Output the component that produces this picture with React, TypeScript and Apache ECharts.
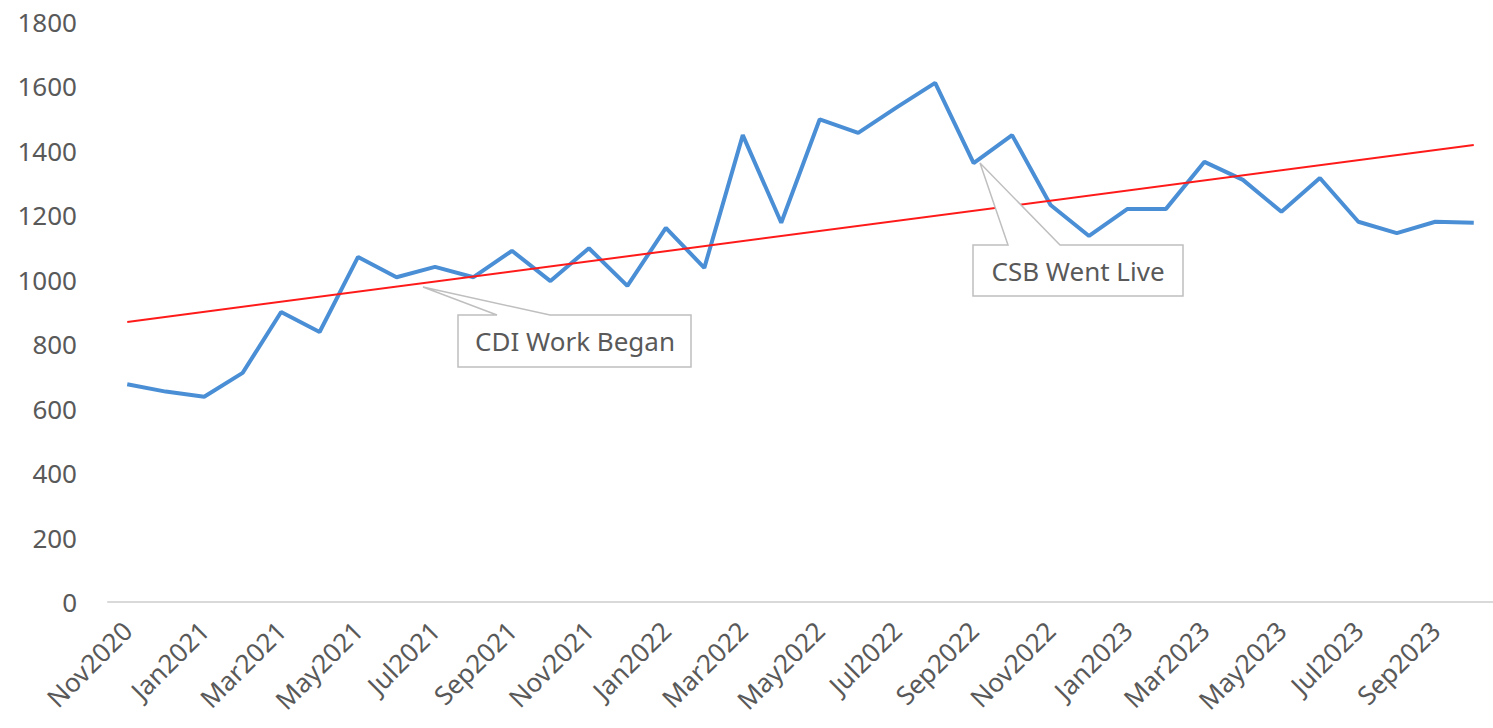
import React, { useEffect, useRef } from "react";
import * as echarts from "echarts";

const categories = [
  "Nov2020", "Dec2020", "Jan2021", "Feb2021", "Mar2021", "Apr2021", "May2021", "Jun2021",
  "Jul2021", "Aug2021", "Sep2021", "Oct2021", "Nov2021", "Dec2021", "Jan2022", "Feb2022",
  "Mar2022", "Apr2022", "May2022", "Jun2022", "Jul2022", "Aug2022", "Sep2022", "Oct2022",
  "Nov2022", "Dec2022", "Jan2023", "Feb2023", "Mar2023", "Apr2023", "May2023", "Jun2023",
  "Jul2023", "Aug2023", "Sep2023", "Oct2023",
];

const values = [
  676, 653, 637, 711, 900, 838, 1071, 1008, 1040, 1008, 1090, 996,
  1098, 981, 1161, 1037, 1449, 1177, 1498, 1456, 1535, 1611, 1362, 1449,
  1232, 1136, 1220, 1220, 1366, 1310, 1211, 1316, 1180, 1145, 1180, 1177,
];

const trendStart = 869;
const trendEnd = 1418;

const yTicks = { min: 0, max: 1800, interval: 200 };

const FONT = "Noto Sans";
const TEXT = "#595959";

export default function App() {
  const ref = useRef<HTMLDivElement>(null);
  useEffect(() => {
    if (!ref.current) return;
    const chart = echarts.init(ref.current, null, { renderer: "svg" });
    const trend = categories.map((_, i) =>
      i === 0 ? trendStart : i === categories.length - 1 ? trendEnd : null
    );
    const boxStyle = { fill: "#ffffff", stroke: "#bfbfbf", lineWidth: 1.5 };
    const textStyle = {
      fill: TEXT,
      font: `26px "${FONT}"`,
      align: "center",
      verticalAlign: "middle",
    };
    chart.setOption({
      animation: false,
      backgroundColor: "#ffffff",
      grid: { left: 108, top: 22, width: 1395, height: 580, containLabel: false },
      xAxis: {
        type: "category",
        data: categories,
        boundaryGap: true,
        axisLine: { lineStyle: { color: "#d9d9d9", width: 2 } },
        axisTick: { interval: 1, length: 7, lineStyle: { color: "#d9d9d9", width: 2 } },
        axisLabel: {
          interval: 1,
          rotate: 45,
          margin: 24,
          color: TEXT,
          fontFamily: FONT,
          fontSize: 26,
        },
        splitLine: { show: false },
      },
      yAxis: {
        type: "value",
        min: yTicks.min,
        max: yTicks.max,
        interval: yTicks.interval,
        axisLine: { show: false },
        axisTick: { show: false },
        splitLine: { show: false },
        axisLabel: {
          margin: 31,
          color: TEXT,
          fontFamily: FONT,
          fontSize: 26,
          formatter: (v: number) => String(v),
        },
      },
      series: [
        {
          type: "line",
          data: values,
          symbol: "none",
          lineStyle: { color: "#4a8fd5", width: 4 },
          z: 2,
        },
        {
          type: "line",
          data: trend,
          connectNulls: true,
          symbol: "none",
          lineStyle: { color: "#ff1a1a", width: 2 },
          z: 3,
        },
      ],
      graphic: [
        {
          type: "polygon",
          z: 10,
          shape: {
            points: [
              [458, 315], [497, 315], [423, 287], [550, 315], [691, 315], [691, 367], [458, 367],
            ],
          },
          style: boxStyle,
        },
        {
          type: "text",
          z: 11,
          x: 575,
          y: 341,
          style: { ...textStyle, text: "CDI Work Began" },
        },
        {
          type: "polygon",
          z: 10,
          shape: {
            points: [
              [973, 245], [1008, 245], [980, 163], [1060, 245], [1183, 245], [1183, 296], [973, 296],
            ],
          },
          style: boxStyle,
        },
        {
          type: "text",
          z: 11,
          x: 1078,
          y: 271,
          style: { ...textStyle, text: "CSB Went Live" },
        },
      ],
    });
    return () => chart.dispose();
  }, []);
  return (
    <div
      ref={ref}
      style={{ position: "fixed", left: 0, top: 0, width: 1493, height: 728, background: "#fff" }}
    />
  );
}
